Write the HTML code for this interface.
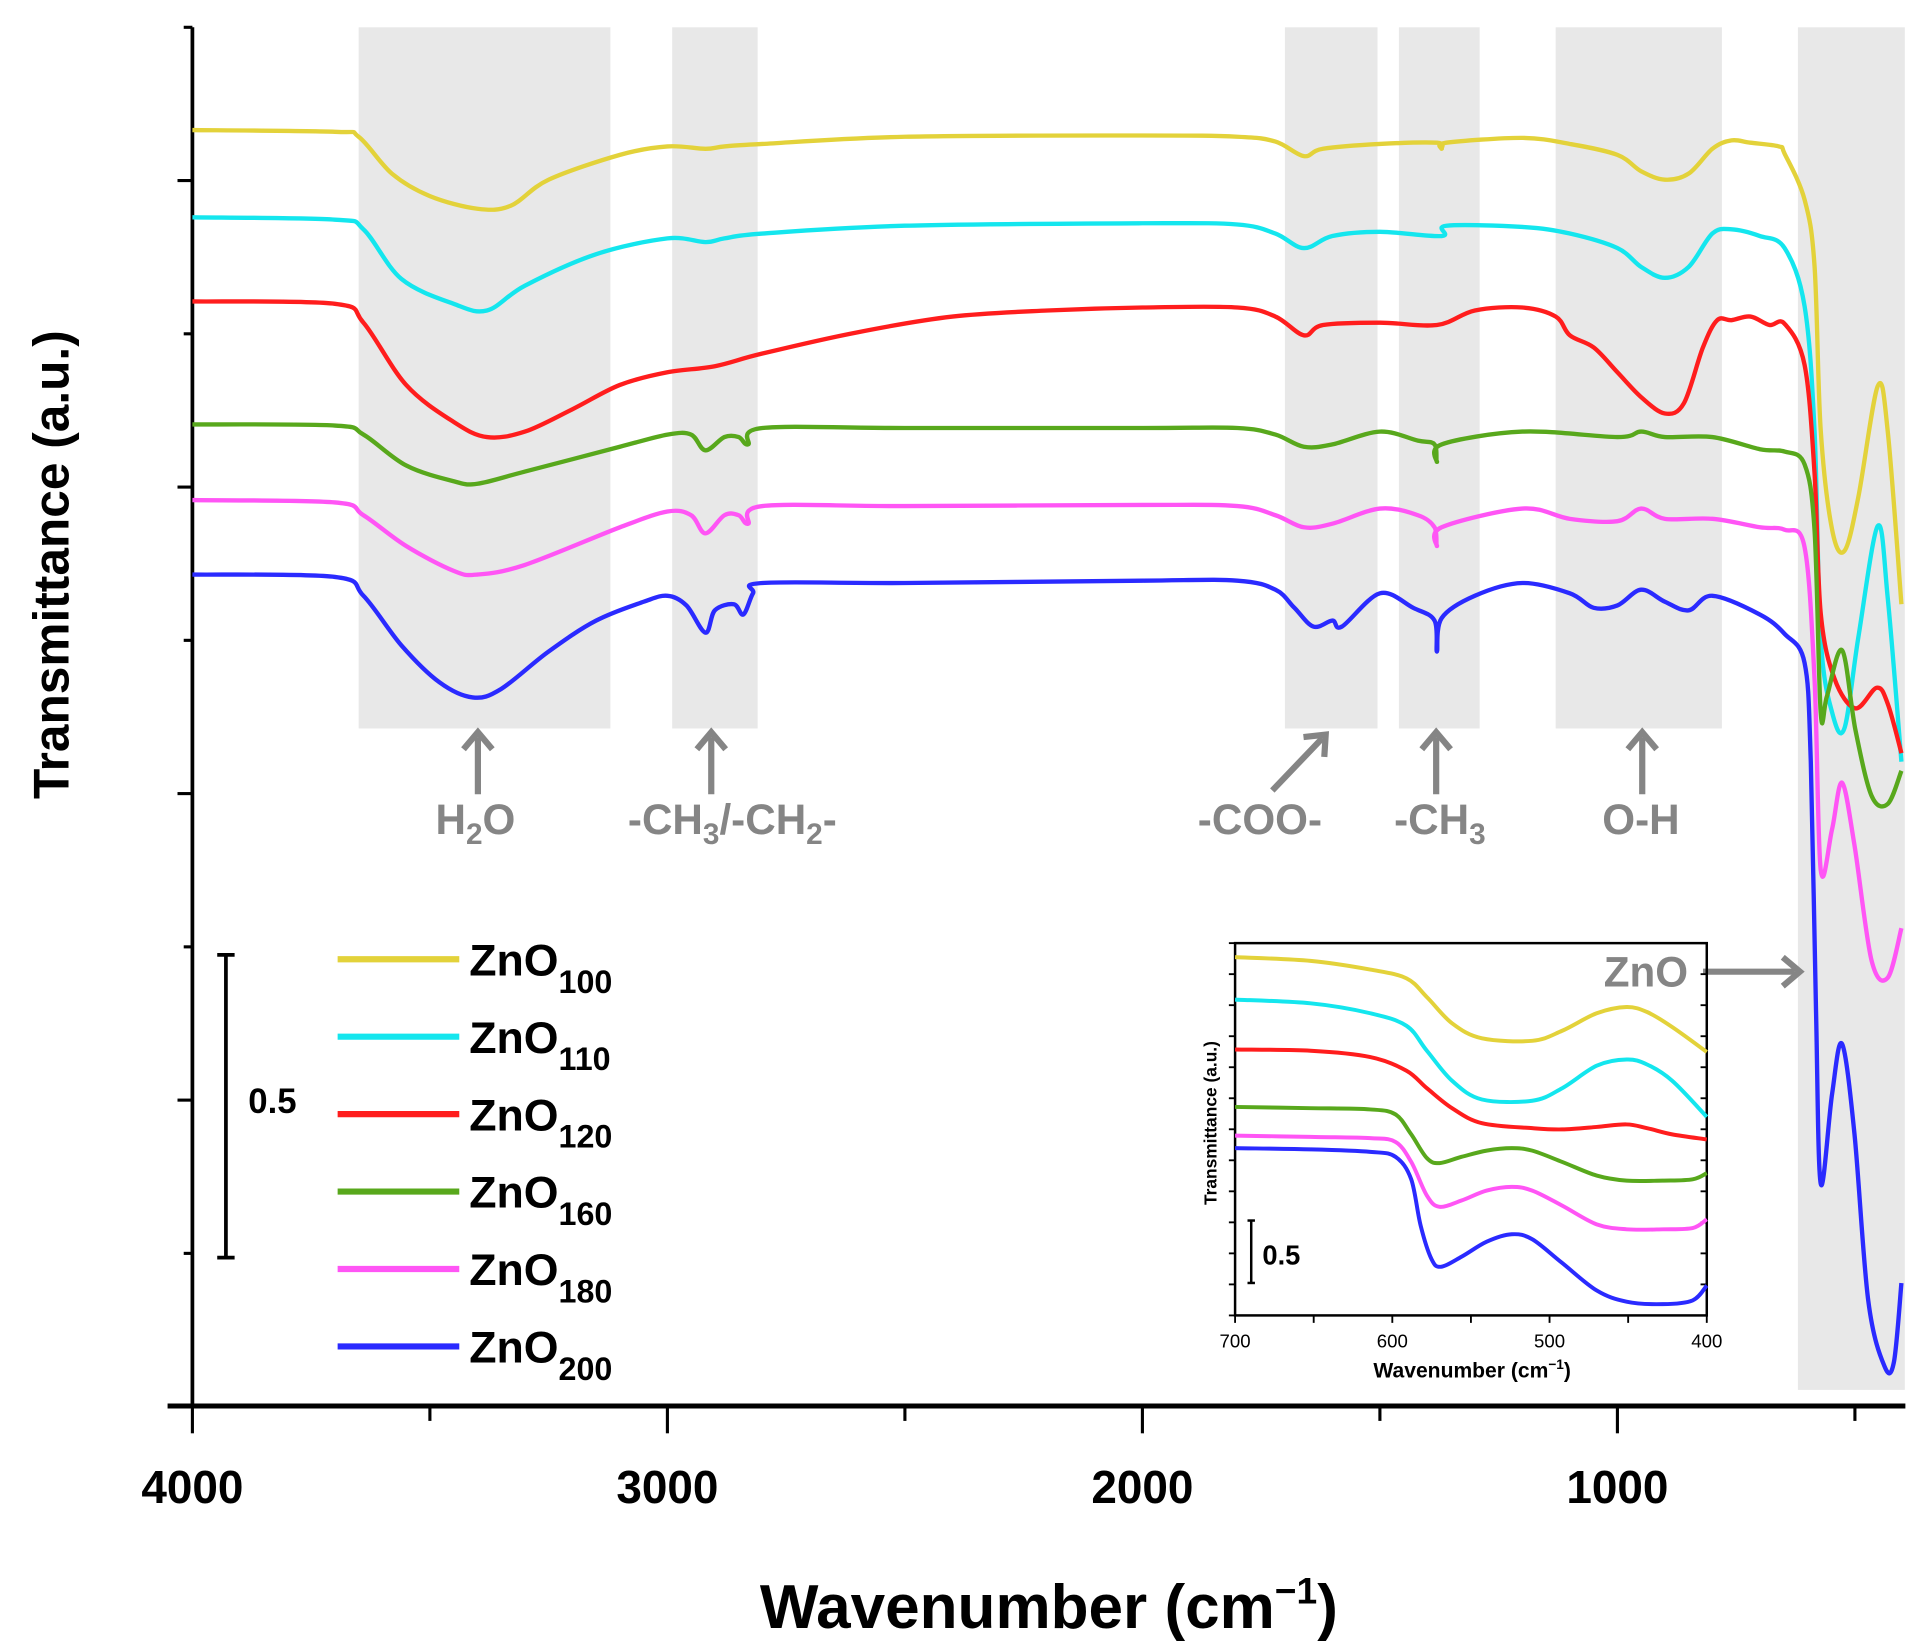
<!DOCTYPE html>
<html><head><meta charset="utf-8"><style>
html,body{margin:0;padding:0;background:#fff;}
svg{display:block;font-family:"Liberation Sans",Arial,sans-serif;}
</style></head><body>
<svg id="chart" width="1924" height="1648" viewBox="0 0 1550 1328" preserveAspectRatio="none" xmlns="http://www.w3.org/2000/svg">
<g id="bands"></g>
<g id="axes"></g>
<g id="series"></g>
<g id="annot"></g>
<g id="legend"></g>
<g id="inset"></g>
</svg>
<script>
// ---- data (main spectrum: wavenumber cm-1, transmittance offset a.u.) ----
const seriesNames = ["ZnO100","ZnO110","ZnO120","ZnO160","ZnO180","ZnO200"];
const seriesSubs = ["100","110","120","160","180","200"];
const seriesColors = ["#e3d23a","#14e6ee","#ff1d1d","#58a81c","#ff55f5","#2a2aff"];
const xTicksMajor = [4000,3000,2000,1000];
const xTicksMinor = [3500,2500,1500,500];
const ZnO100 = [[4000,2.107],[3700,2.104],[3650,2.096],[3580,2.035],[3500,1.998],[3400,1.977],[3330,1.982],[3250,2.025],[3100,2.066],[3000,2.080],[2920,2.076],[2880,2.080],[2800,2.084],[2500,2.096],[2000,2.098],[1800,2.096],[1720,2.088],[1660,2.064],[1620,2.076],[1500,2.084],[1380,2.086],[1370,2.076],[1360,2.086],[1200,2.094],[1100,2.084],[1000,2.066],[950,2.039],[900,2.025],[850,2.035],[800,2.076],[760,2.090],[720,2.086],[660,2.080],[648,2.068],[606,1.992],[585,1.883],[572,1.611],[548,1.447],[522,1.412],[493,1.500],[452,1.684],[431,1.611],[402,1.324]];
const ZnO110 = [[4000,1.963],[3700,1.959],[3640,1.943],[3560,1.861],[3450,1.820],[3380,1.809],[3300,1.850],[3150,1.902],[3000,1.928],[2920,1.922],[2880,1.928],[2800,1.936],[2500,1.949],[2000,1.953],[1800,1.951],[1720,1.936],[1660,1.912],[1600,1.932],[1500,1.939],[1370,1.932],[1360,1.949],[1200,1.947],[1100,1.936],[1000,1.912],[950,1.881],[900,1.863],[850,1.881],[800,1.936],[760,1.943],[700,1.932],[648,1.912],[606,1.816],[585,1.611],[572,1.268],[548,1.145],[522,1.119],[493,1.268],[452,1.453],[431,1.336],[402,1.064]];
const ZnO120 = [[4000,1.824],[3700,1.820],[3640,1.789],[3550,1.686],[3450,1.625],[3380,1.600],[3300,1.609],[3200,1.646],[3100,1.686],[3000,1.707],[2900,1.717],[2800,1.738],[2600,1.773],[2400,1.799],[2200,1.809],[2000,1.814],[1800,1.814],[1720,1.799],[1660,1.768],[1620,1.785],[1500,1.789],[1380,1.785],[1300,1.809],[1200,1.814],[1130,1.799],[1100,1.768],[1050,1.748],[1000,1.707],[950,1.666],[900,1.639],[860,1.656],[820,1.748],[790,1.793],[760,1.793],[720,1.799],[680,1.785],[648,1.787],[606,1.719],[585,1.541],[572,1.309],[543,1.201],[499,1.152],[454,1.186],[431,1.160],[402,1.078]];
const ZnO160 = [[4000,1.621],[3700,1.619],[3640,1.604],[3550,1.553],[3450,1.527],[3400,1.523],[3300,1.543],[3100,1.584],[3000,1.604],[2950,1.604],[2920,1.578],[2880,1.600],[2850,1.600],[2830,1.588],[2800,1.615],[2500,1.615],[2000,1.615],[1800,1.615],[1720,1.604],[1660,1.584],[1600,1.588],[1500,1.609],[1420,1.594],[1385,1.588],[1380,1.559],[1370,1.588],[1200,1.609],[1000,1.600],[950,1.609],[900,1.600],[800,1.600],[700,1.580],[648,1.576],[606,1.555],[585,1.447],[572,1.145],[559,1.172],[527,1.248],[499,1.117],[465,1.008],[431,0.994],[402,1.049]];
const ZnO180 = [[4000,1.496],[3700,1.492],[3640,1.471],[3550,1.420],[3450,1.379],[3400,1.373],[3300,1.389],[3100,1.451],[3000,1.477],[2950,1.471],[2920,1.441],[2880,1.471],[2850,1.471],[2830,1.457],[2800,1.486],[2500,1.486],[2000,1.488],[1800,1.486],[1720,1.471],[1660,1.451],[1600,1.457],[1500,1.482],[1420,1.471],[1385,1.451],[1380,1.420],[1370,1.451],[1200,1.482],[1100,1.465],[1000,1.461],[950,1.482],[900,1.465],[800,1.465],[700,1.451],[648,1.447],[606,1.418],[585,1.201],[572,0.885],[548,0.953],[527,1.029],[501,0.926],[465,0.736],[431,0.707],[402,0.789]];
const ZnO200 = [[4000,1.373],[3700,1.369],[3640,1.338],[3560,1.256],[3480,1.195],[3410,1.170],[3350,1.184],[3250,1.246],[3150,1.297],[3050,1.328],[3000,1.338],[2960,1.322],[2920,1.277],[2900,1.314],[2860,1.324],[2840,1.307],[2820,1.342],[2800,1.359],[2500,1.359],[2000,1.363],[1800,1.363],[1720,1.348],[1680,1.318],[1640,1.287],[1600,1.297],[1580,1.287],[1500,1.342],[1430,1.318],[1385,1.297],[1380,1.246],[1370,1.301],[1300,1.338],[1200,1.359],[1100,1.342],[1050,1.318],[1000,1.322],[950,1.348],[900,1.328],[850,1.314],[800,1.338],[700,1.307],[648,1.275],[606,1.227],[593,1.064],[582,0.654],[572,0.367],[548,0.516],[527,0.598],[501,0.449],[472,0.174],[438,0.066],[418,0.072],[402,0.203]];
// inset (700-400 cm-1)
const insetXTicks = [700,600,500,400];
const in100 = [[700,2.87],[652,2.84],[614,2.77],[591,2.70],[578,2.55],[562,2.34],[543,2.22],[511,2.20],[492,2.28],[470,2.42],[451,2.47],[438,2.43],[422,2.31],[400,2.11]];
const in110 = [[700,2.53],[652,2.50],[614,2.42],[591,2.32],[578,2.12],[562,1.88],[543,1.73],[511,1.72],[492,1.82],[470,2.00],[451,2.05],[438,2.01],[422,1.88],[400,1.59]];
const in120 = [[700,2.13],[652,2.12],[614,2.07],[591,1.96],[578,1.82],[562,1.66],[543,1.54],[511,1.50],[492,1.49],[470,1.51],[451,1.53],[438,1.50],[422,1.45],[400,1.41]];
const in160 = [[700,1.67],[652,1.66],[614,1.65],[598,1.61],[588,1.45],[578,1.26],[570,1.22],[556,1.27],[540,1.32],[524,1.34],[511,1.32],[492,1.23],[470,1.12],[451,1.08],[428,1.08],[409,1.09],[400,1.14]];
const in180 = [[700,1.44],[652,1.43],[614,1.42],[598,1.39],[588,1.23],[578,0.96],[570,0.87],[556,0.92],[540,1.00],[524,1.03],[511,1.00],[492,0.88],[470,0.73],[451,0.69],[428,0.69],[409,0.70],[400,0.77]];
const in200 = [[700,1.34],[652,1.33],[614,1.31],[598,1.27],[588,1.09],[582,0.72],[575,0.45],[569,0.39],[556,0.47],[540,0.59],[524,0.65],[511,0.61],[492,0.42],[470,0.20],[451,0.11],[428,0.09],[409,0.12],[400,0.24]];

const NS="http://www.w3.org/2000/svg";
function mk(tag,attrs,parent,text){const e=document.createElementNS(NS,tag);for(const k in attrs)e.setAttribute(k,attrs[k]);if(text!==undefined)e.textContent=text;parent.appendChild(e);return e;}
// scales
const X0=155, X1=1535, Y0=1133;
function xS(w){return 155+(4000-w)*0.38267;}
function yS(t){return Y0-t*488;}
function ixS(w){return 995+(700-w)/300*380;}
function iyS(t){return 1060-t*100.6;}
function smoothPath(pts){
  let d="M"+pts[0][0].toFixed(1)+","+pts[0][1].toFixed(1);
  for(let i=0;i<pts.length-1;i++){
    const p0=pts[Math.max(0,i-1)],p1=pts[i],p2=pts[i+1],p3=pts[Math.min(pts.length-1,i+2)];
    const c1=[p1[0]+(p2[0]-p0[0])/6,p1[1]+(p2[1]-p0[1])/6];
    const c2=[p2[0]-(p3[0]-p1[0])/6,p2[1]-(p3[1]-p1[1])/6];
    d+="C"+c1[0].toFixed(1)+","+c1[1].toFixed(1)+" "+c2[0].toFixed(1)+","+c2[1].toFixed(1)+" "+p2[0].toFixed(1)+","+p2[1].toFixed(1);
  }
  return d;
}
// bands
const bands=document.getElementById('bands');
[[3650,3120,587],[2990,2810,587],[1700,1505,587],[1460,1290,587],[1130,780,587],[620,395,1120]].forEach((b,i)=>{
  const r=mk('rect',{x:xS(b[0]),y:22,width:xS(b[1])-xS(b[0]),height:b[2]-22,fill:'#e8e8e8'},bands);
  
  
});
// axes
const ax=document.getElementById('axes');
let l=mk('line',{x1:X0,y1:22,x2:X0,y2:Y0,stroke:'#000','stroke-width':3},ax);


l=mk('line',{x1:135,y1:Y0,x2:X1,y2:Y0,stroke:'#000','stroke-width':4},ax);


for(let i=0;i<10;i++){const y=22+i*123.5;const major=(i%2===1);
  mk('line',{x1:X0-(major?12:7),y1:y,x2:X0,y2:y,stroke:'#000','stroke-width':2.5},ax);}
xTicksMajor.forEach(w=>{
  mk('line',{x1:xS(w),y1:Y0,x2:xS(w),y2:Y0+22,stroke:'#000','stroke-width':2.5},ax);
  const t=mk('text',{x:xS(w),y:1211,'text-anchor':'middle','font-size':37,'font-weight':'bold'},ax,String(w));
  
  
});
xTicksMinor.forEach(w=>{mk('line',{x1:xS(w),y1:Y0,x2:xS(w),y2:Y0+12,stroke:'#000','stroke-width':2.5},ax);});
let t=mk('text',{x:845,y:1312,'text-anchor':'middle','font-size':50,'font-weight':'bold'},ax);


t.innerHTML='Wavenumber (cm<tspan dy="-20" font-size="30">−1</tspan><tspan dy="20">)</tspan>';
t=mk('text',{x:0,y:0,'text-anchor':'middle','font-size':40,'font-weight':'bold',transform:'translate(55,455) rotate(-90)'},ax,'Transmittance (a.u.)');


// series
const sg=document.getElementById('series');
[ZnO100,ZnO110,ZnO120,ZnO160,ZnO180,ZnO200].forEach((s,i)=>{
  const p=mk('path',{d:smoothPath(s.map(q=>[xS(q[0]),yS(q[1])])),fill:'none',stroke:seriesColors[i],'stroke-width':3.5,'stroke-linejoin':'round'},sg);
  
  
});
// annotations
const an=document.getElementById('annot');
const G='#858585';
function arrow(x1,y1,x2,y2){
  const ang=Math.atan2(y2-y1,x2-x1),h=18;
  mk('line',{x1:x1,y1:y1,x2:x2-Math.cos(ang)*4,y2:y2-Math.sin(ang)*4,stroke:G,'stroke-width':5},an);
  mk('polyline',{points:[x2-h*Math.cos(ang-0.7),y2-h*Math.sin(ang-0.7),x2,y2,x2-h*Math.cos(ang+0.7),y2-h*Math.sin(ang+0.7)].join(','),fill:'none',stroke:G,'stroke-width':5,'stroke-linejoin':'miter'},an);
}
arrow(385,640,385,590);arrow(573,640,573,590);arrow(1025,637,1068,592);arrow(1157,640,1157,590);arrow(1323,640,1323,590);arrow(1372,783,1450,783);
function lab(x,y,html,name,anchor){const e=mk('text',{x:x,y:y,'text-anchor':anchor||'middle','font-size':34,'font-weight':'bold',fill:G},an);e.innerHTML=html;
  
  }
lab(383,672,'H<tspan dy="8" font-size="24">2</tspan><tspan dy="-8">O</tspan>','label-h2o');
lab(590,672,'-CH<tspan dy="8" font-size="24">3</tspan><tspan dy="-8">/-CH</tspan><tspan dy="8" font-size="24">2</tspan><tspan dy="-8">-</tspan>','label-ch3-ch2');
lab(1015,672,'-COO-','label-coo');
lab(1160,672,'-CH<tspan dy="8" font-size="24">3</tspan>','label-ch3');
lab(1322,672,'O-H','label-oh');
lab(1326,795,'ZnO','label-zno');
// legend
const lg=document.getElementById('legend');
seriesSubs.forEach((s,i)=>{
  const y=773+i*62.4;
  const g=mk('g',{},lg);
  
  
  mk('line',{x1:272,y1:y,x2:370,y2:y,stroke:seriesColors[i],'stroke-width':5},g);
  const tx=mk('text',{x:378,y:y+13,'font-size':36,'font-weight':'bold'},g);
  tx.innerHTML='ZnO<tspan dy="14" font-size="26">'+s+'</tspan>';
});
const sb=mk('g',{},lg);


mk('line',{x1:182,y1:yS(0.745),x2:182,y2:yS(0.245),stroke:'#000','stroke-width':3},sb);
mk('line',{x1:175,y1:yS(0.745),x2:189,y2:yS(0.745),stroke:'#000','stroke-width':3},sb);
mk('line',{x1:175,y1:yS(0.245),x2:189,y2:yS(0.245),stroke:'#000','stroke-width':3},sb);
mk('text',{x:200,y:897,'font-size':28,'font-weight':'bold'},sb,'0.5');
// inset
const ins=document.getElementById('inset');
mk('rect',{x:995,y:760,width:380,height:300,fill:'none',stroke:'#000','stroke-width':2},ins);
for(let i=0;i<=12;i++){const y=760+i*25;mk('line',{x1:990,y1:y,x2:995,y2:y,stroke:'#000','stroke-width':1.5},ins);mk('line',{x1:1375,y1:y,x2:1370,y2:y,stroke:'#000','stroke-width':1.5},ins);}
[700,650,600,550,500,450,400].forEach(w=>{mk('line',{x1:ixS(w),y1:1060,x2:ixS(w),y2:1066,stroke:'#000','stroke-width':1.5},ins);});
insetXTicks.forEach(w=>{const e=mk('text',{x:ixS(w),y:1086,'text-anchor':'middle','font-size':15},ins,String(w));
  
  });
t=mk('text',{x:1186,y:1110,'text-anchor':'middle','font-size':17,'font-weight':'bold'},ins);
t.innerHTML='Wavenumber (cm<tspan dy="-7" font-size="11">−1</tspan><tspan dy="7">)</tspan>';


t=mk('text',{x:0,y:0,'text-anchor':'middle','font-size':14,'font-weight':'bold',transform:'translate(980,905) rotate(-90)'},ins,'Transmittance (a.u.)');


mk('line',{x1:1008,y1:iyS(0.76),x2:1008,y2:iyS(0.26),stroke:'#000','stroke-width':2},ins);
mk('line',{x1:1005,y1:iyS(0.76),x2:1011,y2:iyS(0.76),stroke:'#000','stroke-width':2},ins);
mk('line',{x1:1005,y1:iyS(0.26),x2:1011,y2:iyS(0.26),stroke:'#000','stroke-width':2},ins);
mk('text',{x:1017,y:1019,'font-size':22,'font-weight':'bold'},ins,'0.5');
[in100,in110,in120,in160,in180,in200].forEach((s,i)=>{
  const p=mk('path',{d:smoothPath(s.map(q=>[ixS(q[0]),iyS(q[1])])),fill:'none',stroke:seriesColors[i],'stroke-width':3.2},ins);
  
  
});
</script>
</body></html>
